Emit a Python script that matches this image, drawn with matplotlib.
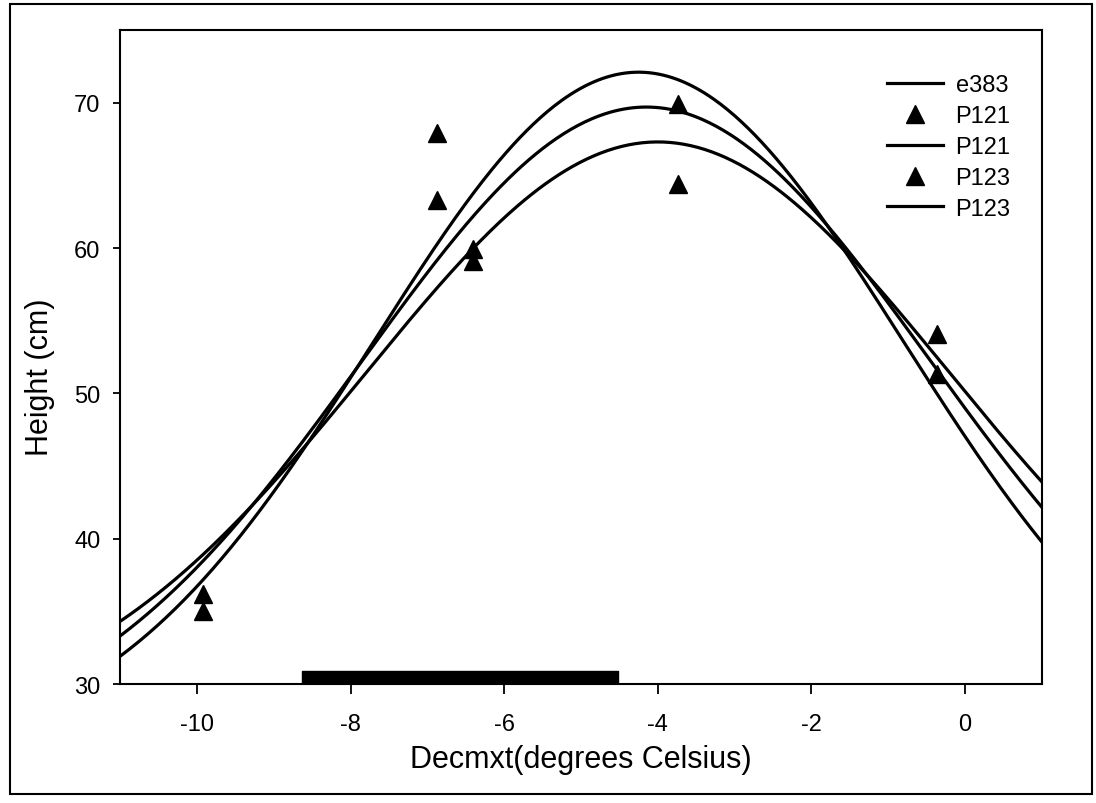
import numpy as np
import matplotlib
matplotlib.use("Agg")
import matplotlib.pyplot as plt
from matplotlib.patches import Rectangle

plt.rcParams['font.family'] = ['Liberation Sans', 'DejaVu Sans']

# observed points (two groups)
p121_x = [-9.92, -6.87, -6.40, -3.74, -0.37]
p121_y = [36.2, 67.9, 59.9, 69.9, 54.1]
p123_x = [-9.92, -6.87, -6.40, -3.74, -0.37]
p123_y = [35.0, 63.3, 59.1, 64.4, 51.3]

# fitted gaussian curves: y0 + a * exp(-0.5 * ((x - x0) / b)**2)
curve_labels = ["e383", "P121", "P123"]
curve_y0 = [24.95, 25.3, 26.9]
curve_a = [47.15, 44.4, 40.4]
curve_x0 = [-4.25, -4.15, -4.00]
curve_b = [3.45, 3.70, 3.80]

# black bar along the x axis
bar_start = -8.63
bar_end = -4.52
bar_top = 30.9

fig = plt.figure(figsize=(10.96, 8.04), dpi=100)
ax = fig.add_axes([0.1095, 0.148, 0.8412, 0.8134])

xs = np.linspace(-11, 1, 400)
curves = []
for y0, a, x0, b in zip(curve_y0, curve_a, curve_x0, curve_b):
    curves.append(y0 + a * np.exp(-0.5 * ((xs - x0) / b) ** 2))

lw = 2.3
l0, = ax.plot(xs, curves[0], color='black', lw=lw)
m1, = ax.plot(p121_x, p121_y, linestyle='none', marker='^', color='black', markersize=13)
l1, = ax.plot(xs, curves[1], color='black', lw=lw)
m2, = ax.plot(p123_x, p123_y, linestyle='none', marker='^', color='black', markersize=13)
l2, = ax.plot(xs, curves[2], color='black', lw=lw)

ax.broken_barh([(bar_start, bar_end - bar_start)], (30, bar_top - 30), color='black', zorder=3)

ax.set_xlim(-11, 1)
ax.set_ylim(30, 75)
ax.set_xticks([-10, -8, -6, -4, -2, 0])
ax.set_xticklabels([str(v) for v in [-10, -8, -6, -4, -2, 0]])
ax.set_yticks([30, 40, 50, 60, 70])
ax.tick_params(axis='x', direction='out', length=7, width=1.3, labelsize=17, pad=14)
ax.tick_params(axis='y', direction='out', length=5, width=1.3, labelsize=17, pad=9)
for s in ax.spines.values():
    s.set_linewidth(1.5)

ax.set_xlabel("Decmxt(degrees Celsius)", fontsize=22, labelpad=6)
ax.set_ylabel("Height (cm)", fontsize=22)
ax.yaxis.set_label_coords(-0.07, 0.47)

ax.legend([l0, m1, l1, m2, l2],
          ["e383", "P121", "P121", "P123", "P123"],
          loc='upper left', bbox_to_anchor=(0.832, 0.933), frameon=False,
          borderpad=0, borderaxespad=0,
          fontsize=17, handlelength=2.35, handletextpad=0.55, labelspacing=0.38)

# outer border of the figure
fig.patches.append(Rectangle((0.009, 0.011), 0.987, 0.983, transform=fig.transFigure,
                             fill=False, edgecolor='black', lw=1.5))

fig.savefig("out.png", dpi=100)
